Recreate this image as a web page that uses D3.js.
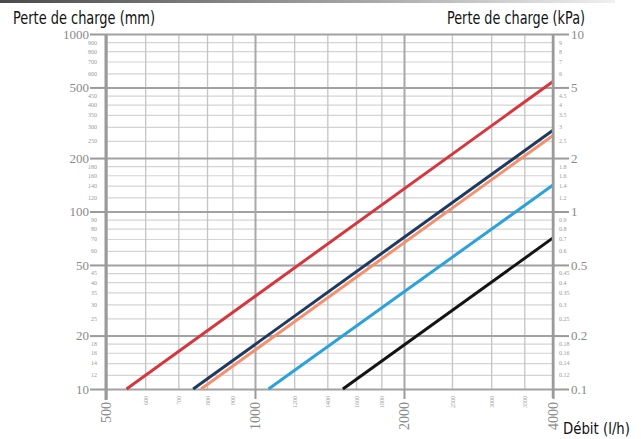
<!DOCTYPE html>
<html><head><meta charset="utf-8">
<script src="https://cdn.jsdelivr.net/npm/d3@7"></script>
<style>
html,body{margin:0;padding:0;background:#fff;}
svg{display:block;}
</style></head>
<body>
<svg id="chart" width="641" height="439"></svg>
<script>
// ---- data ----
const flowMajor = [500, 1000, 2000, 4000];
const flowMinor = [600, 700, 800, 900, 1200, 1400, 1600, 1800, 2500, 3000, 3500];
const mmMajor = [1000, 500, 200, 100, 50, 20, 10];
const mmMinor = [900, 800, 700, 600, 450, 400, 350, 300, 250, 180, 160, 140, 120, 90, 80, 70, 60, 45, 40, 35, 30, 25, 18, 16, 14, 12];
const kpaMajor = [10, 5, 2, 1, 0.5, 0.2, 0.1];
const kpaMinor = [9, 8, 7, 6, 4.5, 4, 3.5, 3, 2.5, 1.8, 1.6, 1.4, 1.2, 0.9, 0.8, 0.7, 0.6, 0.45, 0.4, 0.35, 0.3, 0.25, 0.18, 0.16, 0.14, 0.12];
const redLine = [[550, 10], [4000, 540]];
const navyLine = [[750, 10], [4000, 287]];
const orangeLine = [[778, 10], [4000, 268]];
const skyLine = [[1065, 10], [4000, 141]];
const blackLine = [[1505, 10], [4000, 71]];
const seriesList = [redLine, navyLine, orangeLine, skyLine, blackLine];
const seriesColors = ["#d6373f", "#1e3a60", "#f3916e", "#2ba2da", "#141414"];

// ---- layout ----
const L = 106, R = 553, T = 34, B = 389;
const svg = d3.select("#chart");
const x = d3.scaleLog().domain([500, 4000]).range([L, R]);
const y = d3.scaleLog().domain([10, 1000]).range([B, T]);
const yk = d3.scaleLog().domain([0.1, 10]).range([B, T]);

// top gradient bar
const defs = svg.append("defs");
const grad = defs.append("linearGradient").attr("id", "topbar").attr("x1", 0).attr("x2", 1);
grad.append("stop").attr("offset", "0%").attr("stop-color", "#4a4a4a");
grad.append("stop").attr("offset", "60%").attr("stop-color", "#a8a8a8");
grad.append("stop").attr("offset", "100%").attr("stop-color", "#f0f0f0");
svg.append("rect").attr("x", 0).attr("y", 0).attr("width", 615).attr("height", 3).attr("fill", "url(#topbar)");

function styleGrid(g, color, w) {
  g.select(".domain").remove();
  g.selectAll(".tick line").attr("stroke", color).attr("stroke-width", w);
  g.selectAll(".tick text").remove();
}

// minor gridlines
svg.append("g").attr("transform", `translate(${L},0)`)
  .call(d3.axisLeft(y).tickValues(mmMinor).tickSize(-(R - L)).tickFormat(""))
  .call(g => styleGrid(g, "#d4d4d4", 1.2));
svg.append("g").attr("transform", `translate(0,${B})`)
  .call(d3.axisBottom(x).tickValues(flowMinor).tickSize(-(B - T)).tickFormat(""))
  .call(g => styleGrid(g, "#c4c4c4", 1.3));
// major gridlines
svg.append("g").attr("transform", `translate(${L},0)`)
  .call(d3.axisLeft(y).tickValues(mmMajor).tickSize(-(R - L)).tickFormat(""))
  .call(g => styleGrid(g, "#a2a2a2", 2));
svg.append("g").attr("transform", `translate(0,${B})`)
  .call(d3.axisBottom(x).tickValues(flowMajor).tickSize(-(B - T)).tickFormat(""))
  .call(g => styleGrid(g, "#a8a8a8", 2));

// series lines
const line = d3.line().x(d => x(d[0])).y(d => y(d[1]));
seriesList.forEach((s, i) => {
  svg.append("path").datum(s).attr("d", line)
    .attr("fill", "none").attr("stroke", seriesColors[i]).attr("stroke-width", 3);
});

const labelFont = "'Liberation Serif', 'DejaVu Serif', serif";
const labelColor = "#8a8a8a";

// left axis
svg.append("g").attr("transform", `translate(${L},0)`)
  .call(d3.axisLeft(y).tickValues(mmMajor).tickSize(16).tickPadding(1).tickFormat(d3.format("d")))
  .call(g => {
    g.select(".domain").attr("stroke", "#9a9a9a").attr("stroke-width", 3).attr("d", `M0,${T}V${B + 11}`);
    g.selectAll(".tick line").attr("stroke", "#9a9a9a").attr("stroke-width", 2);
    g.selectAll(".tick text").attr("fill", labelColor).attr("font-family", labelFont).attr("font-size", 13);
  });
svg.append("g").attr("transform", `translate(${L},0)`)
  .call(d3.axisLeft(y).tickValues(mmMinor).tickSize(0).tickPadding(9).tickFormat(d3.format("d")))
  .call(g => {
    g.select(".domain").remove();
    g.selectAll(".tick text").attr("fill", "#9a9a9a").attr("font-family", labelFont).attr("font-size", 6);
  });

// right axis
svg.append("g").attr("transform", `translate(${R},0)`)
  .call(d3.axisRight(yk).tickValues(kpaMajor).tickSize(16).tickPadding(2).tickFormat(d => String(d)))
  .call(g => {
    g.select(".domain").attr("stroke", "#9a9a9a").attr("stroke-width", 2.5).attr("d", `M0,${T}V${B + 9}`);
    g.selectAll(".tick line").attr("stroke", "#9a9a9a").attr("stroke-width", 2);
    g.selectAll(".tick text").attr("fill", labelColor).attr("font-family", labelFont).attr("font-size", 13);
  });
svg.append("g").attr("transform", `translate(${R},0)`)
  .call(d3.axisRight(yk).tickValues(kpaMinor).tickSize(0).tickPadding(6).tickFormat(d => String(d)))
  .call(g => {
    g.select(".domain").remove();
    g.selectAll(".tick text").attr("fill", "#9a9a9a").attr("font-family", labelFont).attr("font-size", 6);
  });

// bottom axis
svg.append("g").attr("transform", `translate(0,${B})`)
  .call(d3.axisBottom(x).tickValues(flowMajor).tickSize(10).tickPadding(2).tickFormat(d3.format("d")))
  .call(g => {
    g.select(".domain").remove();
    g.selectAll(".tick line").attr("stroke", "#9a9a9a").attr("stroke-width", 2);
    g.selectAll(".tick text").attr("fill", labelColor).attr("font-family", labelFont).attr("font-size", 14)
      .attr("transform", "rotate(-90)").attr("text-anchor", "end").attr("dy", "0.35em")
      .attr("x", -13).attr("y", 0);
  });
svg.append("g").attr("transform", `translate(0,${B})`)
  .call(d3.axisBottom(x).tickValues(flowMinor).tickSize(0).tickFormat(d3.format("d")))
  .call(g => {
    g.select(".domain").remove();
    g.selectAll(".tick text").attr("fill", "#a0a0a0").attr("font-family", labelFont).attr("font-size", 6)
      .attr("transform", "rotate(-90)").attr("text-anchor", "end").attr("dy", "0.35em")
      .attr("x", -7).attr("y", 0);
  });

// titles
const titleFont = "'Liberation Sans Narrow', 'DejaVu Sans Condensed', 'Open Sans', sans-serif";
svg.append("text").attr("x", 13).attr("y", 24).text("Perte de charge (mm)")
  .attr("font-family", titleFont).attr("font-size", 17).attr("fill", "#111")
  .attr("textLength", 142).attr("lengthAdjust", "spacingAndGlyphs");
svg.append("text").attr("x", 447).attr("y", 24).text("Perte de charge (kPa)")
  .attr("font-family", titleFont).attr("font-size", 17).attr("fill", "#111")
  .attr("textLength", 138).attr("lengthAdjust", "spacingAndGlyphs");
svg.append("text").attr("x", 563).attr("y", 434).text("Débit (l/h)")
  .attr("font-family", titleFont).attr("font-size", 16).attr("fill", "#111")
  .attr("textLength", 67).attr("lengthAdjust", "spacingAndGlyphs");
</script>
</body></html>
